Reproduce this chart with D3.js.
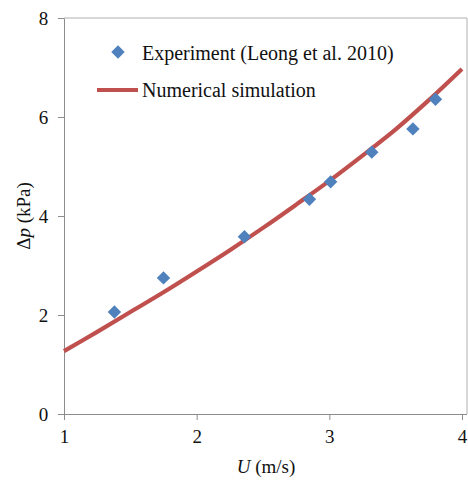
<!DOCTYPE html>
<html><head><meta charset="utf-8">
<script src="https://cdn.jsdelivr.net/npm/d3@7"></script>
<style>body{margin:0;background:#fff}svg{display:block}</style>
</head><body>
<svg id="c" width="468" height="483"></svg>
<script>
const expU  = [1.38, 1.75, 2.36, 2.85, 3.01, 3.32, 3.63, 3.80];
const expDp = [2.06, 2.75, 3.58, 4.34, 4.69, 5.29, 5.76, 6.36];
const simU  = [1.0, 1.25, 1.5, 1.75, 2.0, 2.25, 2.5, 2.75, 3.0, 3.25, 3.5, 3.75, 4.0];
const simDp = [1.27, 1.66, 2.06, 2.46, 2.88, 3.31, 3.76, 4.23, 4.71, 5.22, 5.75, 6.34, 6.97];
const xTicks = [1, 2, 3, 4];
const yTicks = [0, 2, 4, 6, 8];
const legendLabels = ["Experiment (Leong et al. 2010)", "Numerical simulation"];

const svg = d3.select("#c");
const font = "'Liberation Serif','Times New Roman',serif";
const x = d3.scaleLinear().domain([1, 4]).range([64, 462]);
const y = d3.scaleLinear().domain([0, 8]).range([414, 18]);
const axisCol = "#8c8c8c";

// plot border (top/right)
svg.append("path").attr("d", `M64,18H467V414`).attr("fill","none").attr("stroke","#b0b0b0").attr("stroke-width",1);

const xa = svg.append("g").attr("transform","translate(0,414)")
  .call(d3.axisBottom(x).tickValues(xTicks).tickSize(6).tickSizeOuter(0).tickFormat(d3.format("d")));
const ya = svg.append("g").attr("transform","translate(64,0)")
  .call(d3.axisLeft(y).tickValues(yTicks).tickSize(6).tickSizeOuter(0).tickFormat(d3.format("d")));
svg.append("line").attr("x1",64).attr("x2",467).attr("y1",414.5).attr("y2",414.5).attr("stroke",axisCol);
[xa, ya].forEach(g => {
  g.select(".domain").attr("stroke", axisCol);
  g.selectAll(".tick line").attr("stroke", axisCol);
  g.selectAll(".tick text").attr("font-family", font).attr("font-size", 19).attr("fill","#111");
});
xa.selectAll(".tick text").attr("dy","1.05em");
ya.selectAll(".tick text").attr("dx","-0.35em");

// simulation line
svg.append("path").datum(simU.map((u,i)=>[u, simDp[i]]))
  .attr("d", d3.line().x(d=>x(d[0])).y(d=>y(d[1])).curve(d3.curveCatmullRom))
  .attr("fill","none").attr("stroke","#C0504D").attr("stroke-width",4.2);

// experiment points
const diamond = d3.symbol().type(d3.symbolSquare).size(90);
svg.append("g").selectAll("path").data(expU.map((u,i)=>[u, expDp[i]])).join("path")
  .attr("d", diamond)
  .attr("transform", d=>`translate(${x(d[0])},${y(d[1])}) rotate(45)`)
  .attr("fill","#4F81BD");

// legend
svg.append("path").attr("d", diamond).attr("transform","translate(118,52) rotate(45)").attr("fill","#4F81BD");
svg.append("line").attr("x1",97).attr("x2",138).attr("y1",90).attr("y2",90).attr("stroke","#C0504D").attr("stroke-width",4.2);
svg.selectAll("text.leg").data(legendLabels).join("text").attr("class","leg")
  .attr("x",142).attr("y",(d,i)=>59.5 + i*37.5).attr("font-family",font).attr("font-size",20).attr("fill","#111").text(d=>d);

// axis titles
const xt = svg.append("text").attr("x",266).attr("y",473).attr("text-anchor","middle")
  .attr("font-family",font).attr("font-size",19).attr("fill","#111");
xt.append("tspan").attr("font-style","italic").text("U");
xt.append("tspan").text(" (m/s)");
const yt = svg.append("text").attr("transform","translate(30,216) rotate(-90)").attr("text-anchor","middle")
  .attr("font-family",font).attr("font-size",19).attr("fill","#111");
yt.append("tspan").text("Δ");
yt.append("tspan").attr("font-style","italic").text("p");
yt.append("tspan").text(" (kPa)");
</script>
</body></html>
